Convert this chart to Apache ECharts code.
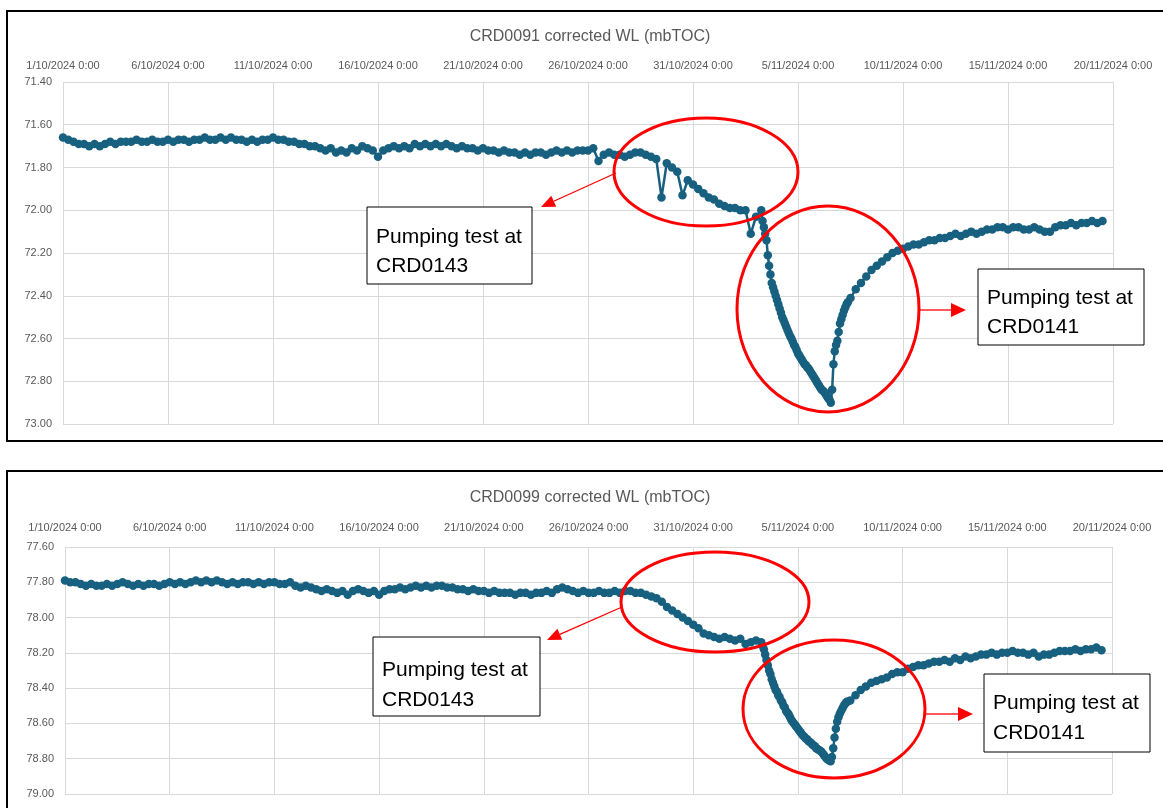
<!DOCTYPE html>
<html><head><meta charset="utf-8">
<script src="https://cdn.jsdelivr.net/npm/echarts@6/dist/echarts.min.js"></script>
<style>html,body{margin:0;padding:0;background:#fff}#c{width:1163px;height:808px}</style>
</head><body><div id="c"></div>
<script>
// ---- tick labels ----
const xTickLabels = ['1/10/2024 0:00','6/10/2024 0:00','11/10/2024 0:00','16/10/2024 0:00','21/10/2024 0:00',
  '26/10/2024 0:00','31/10/2024 0:00','5/11/2024 0:00','10/11/2024 0:00','15/11/2024 0:00','20/11/2024 0:00'];
const titles = ['CRD0091 corrected WL (mbTOC)', 'CRD0099 corrected WL (mbTOC)'];
const noteCRD0143 = ['Pumping test at', 'CRD0143'];
const noteCRD0141 = ['Pumping test at', 'CRD0141'];

// ---- CRD0091 (days since 1/10/2024) ----
// 6-hourly from day 0 to day 33
const crd0091Pre = [
  71.66,71.67,71.68,71.69, 71.69,71.70,71.69,71.70, 71.69,71.68,71.69,71.68, 71.68,71.68,71.67,71.68,
  71.68,71.67,71.68,71.68, 71.67,71.68,71.67,71.67, 71.68,71.67,71.67,71.66, 71.67,71.67,71.66,71.67,
  71.66,71.67,71.67,71.68, 71.67,71.68,71.67,71.67, 71.66,71.67,71.67,71.68, 71.68,71.69,71.69,71.70,
  71.70,71.71,71.72,71.71, 71.73,71.72,71.73,71.71, 71.72,71.70,71.71,71.72, 71.75,71.72,71.71,71.70,
  71.71,71.70,71.71,71.69, 71.70,71.69,71.70,71.69, 71.70,71.69,71.70,71.71, 71.70,71.71,71.71,71.72,
  71.71,71.72,71.72,71.73, 71.72,71.73,71.73,71.74, 71.73,71.74,71.73,71.73, 71.74,71.73,71.72,71.73,
  71.72,71.73,71.72,71.72, 71.72,71.71,71.77,71.74, 71.73,71.74,71.74,71.75, 71.74,71.73,71.73,71.74,
  71.75,71.76,71.94,71.78, 71.80,71.82,71.93,71.86, 71.88,71.90,71.92,71.94, 71.95,71.97,71.98,71.99,
  71.99,72.00,72.00,72.11, 72.03
];
// 1.5-hourly from day 33.25 to day 37.375
const crd0091Drawdown = [
  72.00,72.05,72.08,72.11,72.14,72.21,72.26,72.30,
  72.34,72.36,72.38,72.40,72.42,72.44,72.46,72.48,
  72.50,72.515,72.53,72.545,72.56,72.575,72.59,72.60,
  72.615,72.63,72.64,72.655,72.67,72.68,72.69,72.70,
  72.71,72.72,72.725,72.735,72.74,72.75,72.76,72.77,
  72.78,72.79,72.80,72.81,72.82,72.83,72.84,72.845,
  72.85,72.86,72.87,72.88,72.885,72.90,72.84,72.72,
  72.66,72.63,72.61,72.57,72.53,72.51,72.49,72.47,
  72.455,72.44,72.43
];
// 6-hourly from day 37.5 to day 49.5
const crd0091Recovery = [
  72.41,72.37,72.34,72.31, 72.28,72.26,72.24,72.22, 72.20,72.19,72.18,72.17, 72.16,72.16,72.15,72.14,
  72.14,72.13,72.13,72.12, 72.11,72.12,72.11,72.10, 72.11,72.10,72.09,72.09, 72.08,72.08,72.09,72.08,
  72.08,72.09,72.09,72.08, 72.09,72.10,72.10,72.08, 72.07,72.07,72.06,72.07, 72.06,72.06,72.05,72.06,
  72.05
];

// ---- CRD0099 ----
const crd0099Pre = [
  77.79,77.80,77.80,77.81, 77.82,77.81,77.82,77.82, 77.81,77.82,77.81,77.80, 77.81,77.82,77.81,77.82,
  77.81,77.81,77.82,77.81, 77.80,77.81,77.80,77.81, 77.80,77.79,77.80,77.79, 77.80,77.79,77.80,77.81,
  77.80,77.81,77.80,77.80, 77.81,77.80,77.81,77.80, 77.80,77.81,77.81,77.80, 77.82,77.83,77.82,77.83,
  77.84,77.85,77.84,77.85, 77.86,77.85,77.87,77.85, 77.84,77.85,77.86,77.85, 77.87,77.85,77.84,77.84,
  77.83,77.84,77.83,77.82, 77.83,77.82,77.83,77.82, 77.82,77.83,77.83,77.84, 77.84,77.85,77.84,77.85,
  77.85,77.86,77.85,77.86, 77.86,77.86,77.87,77.86, 77.86,77.87,77.86,77.86, 77.85,77.86,77.84,77.83,
  77.84,77.85,77.86,77.85, 77.86,77.86,77.85,77.86, 77.86,77.85,77.86,77.85, 77.85,77.86,77.86,77.87,
  77.88,77.89,77.91,77.94, 77.96,77.98,78.00,78.02, 78.04,78.06,78.09,78.10, 78.11,78.12,78.11,78.12,
  78.13,78.12,78.15,78.14, 78.13
];
const crd0099Drawdown = [
  78.14,78.16,78.18,78.21,78.24,78.27,78.30,78.32,
  78.35,78.37,78.39,78.41,78.42,78.44,78.45,78.47,
  78.48,78.50,78.51,78.53,78.54,78.55,78.565,78.58,
  78.59,78.60,78.61,78.62,78.63,78.64,78.65,78.66,
  78.67,78.675,78.685,78.69,78.70,78.705,78.71,78.72,
  78.725,78.73,78.74,78.745,78.75,78.755,78.76,78.77,
  78.78,78.79,78.80,78.805,78.81,78.815,78.79,78.74,
  78.68,78.63,78.59,78.565,78.545,78.53,78.515,78.50,
  78.49,78.48,78.475
];
const crd0099Recovery = [
  78.47,78.44,78.41,78.39, 78.37,78.36,78.35,78.34, 78.32,78.31,78.31,78.29, 78.28,78.27,78.27,78.26,
  78.25,78.25,78.24,78.25, 78.23,78.24,78.22,78.23, 78.22,78.21,78.21,78.20, 78.21,78.20,78.20,78.19,
  78.20,78.20,78.21,78.20, 78.22,78.21,78.21,78.20, 78.19,78.19,78.19,78.18, 78.19,78.18,78.18,78.17,
  78.185
];

// sampling of the three segments (days)
const PRE_START = 0, PRE_STEP = 0.25;
const DD_START = 33.25, DD_STEP = 0.0625;
const REC_START = 37.5, REC_STEP = 0.25;

function build(pre, dd, rec) {
  const out = [];
  pre.forEach((v, i) => out.push([PRE_START + i * PRE_STEP, v]));
  dd.forEach((v, i) => out.push([DD_START + i * DD_STEP, v]));
  rec.forEach((v, i) => out.push([REC_START + i * REC_STEP, v]));
  return out;
}

const LABEL = '#595959', GRIDC = '#d9d9d9', SERIES = '#18607f', RED = '#ff0000';
const FONT = '"Liberation Sans", Arial, sans-serif';

function xAxisCfg(idx, margin) {
  return {
    type: 'value', gridIndex: idx, position: 'top', min: 0, max: 50, interval: 5,
    axisLine: { show: false }, axisTick: { show: false },
    splitLine: { show: true, lineStyle: { color: GRIDC, width: 1 } },
    axisLabel: { color: LABEL, fontSize: 11, fontFamily: FONT, margin: margin,
      formatter: v => xTickLabels[Math.round(v / 5)] }
  };
}
function yAxisCfg(idx, min, max) {
  return {
    type: 'value', gridIndex: idx, inverse: true, min: min, max: max, interval: 0.2,
    axisLine: { show: false }, axisTick: { show: false },
    splitLine: { show: true, lineStyle: { color: GRIDC, width: 1 } },
    axisLabel: { color: LABEL, fontSize: 11, fontFamily: FONT, margin: 11,
      formatter: v => v.toFixed(2) }
  };
}
function seriesCfg(idx, data) {
  return {
    type: 'line', xAxisIndex: idx, yAxisIndex: idx, data: data,
    symbol: 'circle', symbolSize: 8.5, showSymbol: true,
    itemStyle: { color: SERIES, borderWidth: 0 },
    lineStyle: { color: SERIES, width: 2.5 },
    emphasis: { disabled: true }, silent: true, z: 3
  };
}

function arrow(x1, y1, x2, y2, len, half) {
  const dx = x2 - x1, dy = y2 - y1, L = Math.hypot(dx, dy);
  const ux = dx / L, uy = dy / L, nx = -uy, ny = ux;
  const bx = x2 - ux * len, by = y2 - uy * len;
  return [
    { type: 'line', z: 100, shape: { x1: x1, y1: y1, x2: bx, y2: by }, style: { stroke: RED, lineWidth: 1.3 } },
    { type: 'polygon', z: 100, shape: { points: [[x2, y2], [bx + nx * half, by + ny * half], [bx - nx * half, by - ny * half]] },
      style: { fill: RED, stroke: null } }
  ];
}
function ellipse(cx, cy, rx, ry) {
  return { type: 'ellipse', z: 100, shape: { cx: cx, cy: cy, rx: rx, ry: ry },
    style: { fill: 'none', stroke: RED, lineWidth: 3 } };
}
function note(x, y, w, h, tx, ty1, ty2, lines) {
  return [
    { type: 'rect', z: 100, shape: { x: x, y: y, width: w, height: h }, style: { fill: '#fff', stroke: '#000', lineWidth: 1 } },
    { type: 'text', z: 101, style: { x: tx, y: ty1, text: lines[0], fill: '#000', fontSize: 21, fontFamily: FONT, verticalAlign: 'middle', align: 'left' } },
    { type: 'text', z: 101, style: { x: tx, y: ty2, text: lines[1], fill: '#000', fontSize: 21, fontFamily: FONT, verticalAlign: 'middle', align: 'left' } }
  ];
}

const graphics = [
  { type: 'rect', z: 100, shape: { x: 7, y: 11, width: 1170, height: 430 }, style: { fill: 'none', stroke: '#000', lineWidth: 2 } },
  { type: 'rect', z: 100, shape: { x: 7, y: 471, width: 1170, height: 360 }, style: { fill: 'none', stroke: '#000', lineWidth: 2 } },
  ellipse(706, 172, 92, 54),
  ellipse(828, 309, 91, 103),
  ellipse(715, 602, 94, 50),
  ellipse(834, 709, 91, 69),
  ...arrow(616, 173, 541, 207, 14, 6),
  ...arrow(920, 310, 966, 310, 15, 7),
  ...arrow(622, 607, 547, 640, 14, 6),
  ...arrow(926, 714, 973, 714, 15, 7),
  ...note(367, 207, 165, 77, 376, 237, 266, noteCRD0143),
  ...note(978, 269, 166, 76, 987, 298, 327, noteCRD0141),
  ...note(373, 637, 167, 79, 382, 670, 700, noteCRD0143),
  ...note(984, 674, 166, 78, 993, 703, 733, noteCRD0141)
];

const chart = echarts.init(document.getElementById('c'), null, { renderer: 'canvas' });
chart.setOption({
  animation: false,
  backgroundColor: '#ffffff',
  title: [
    { text: titles[0], left: 590, top: 29, textAlign: 'center', padding: 0,
      textStyle: { color: LABEL, fontSize: 16, fontWeight: 'normal', fontFamily: FONT } },
    { text: titles[1], left: 590, top: 490, textAlign: 'center', padding: 0,
      textStyle: { color: LABEL, fontSize: 16, fontWeight: 'normal', fontFamily: FONT } }
  ],
  grid: [
    { left: 63, right: 50, top: 82, height: 342 },
    { left: 65, right: 51, top: 547, height: 247 }
  ],
  xAxis: [xAxisCfg(0, 11), xAxisCfg(1, 14)],
  yAxis: [yAxisCfg(0, 71.4, 73.0), yAxisCfg(1, 77.6, 79.0)],
  series: [
    seriesCfg(0, build(crd0091Pre, crd0091Drawdown, crd0091Recovery)),
    seriesCfg(1, build(crd0099Pre, crd0099Drawdown, crd0099Recovery))
  ],
  graphic: { elements: graphics }
});
</script>
</body></html>
